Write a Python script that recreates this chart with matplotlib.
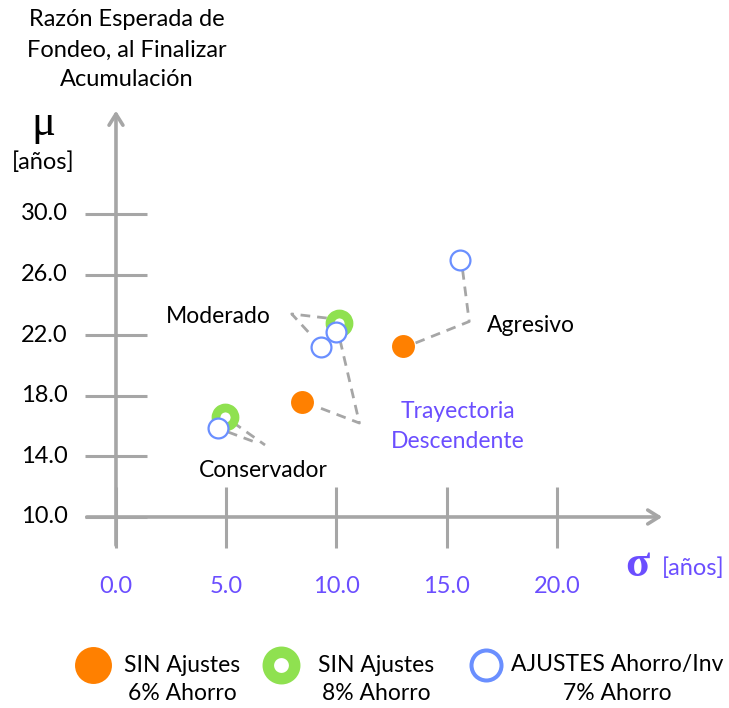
import matplotlib
matplotlib.use("Agg")
import matplotlib.pyplot as plt

plt.rcParams['font.family'] = ['Lato', 'DejaVu Sans']

# ---- data ----
orange_x = [8.42, 13.03]
orange_y = [17.6, 21.3]
green_x = [4.94, 10.11]
green_y = [16.62, 22.8]
blue_x = [4.64, 9.28, 9.98, 15.6]
blue_y = [15.9, 21.2, 22.23, 26.96]

x_ticks = [0.0, 5.0, 10.0, 15.0, 20.0]
y_ticks = [10.0, 14.0, 18.0, 22.0, 26.0, 30.0]

# callout connector paths (data coords)
conn_paths = [
    [(5.3, 16.25), (6.76, 14.75)],
    [(5.08, 15.61), (6.2, 15.0)],
    [(9.56, 23.13), (7.97, 23.4), (8.93, 21.88)],
    [(10.16, 21.68), (11.04, 16.2), (9.1, 17.28)],
    [(15.72, 26.3), (16.02, 22.9), (13.56, 21.47)],
]

labels_txt = ["Moderado", "Agresivo", "Conservador"]
labels_pos = [(4.66, 23.2), (18.8, 22.67), (6.67, 13.04)]

title_lines = ["Razón Esperada de", "Fondeo, al Finalizar", "Acumulación"]
legend_line1 = ["SIN Ajustes", "SIN Ajustes", "AJUSTES Ahorro/Inv"]
legend_line2 = ["6% Ahorro", "8% Ahorro", "7% Ahorro"]

ORANGE = "#FF8000"
GREEN = "#8FE150"
BLUE = "#6A8FFF"
GRAY = "#A6A6A6"
PURPLE = "#6B4EFF"

W, H = 729, 708
fig = plt.figure(figsize=(7.29, 7.08), dpi=100)

# overlay axes in pixel coordinates for free text / legend
pax = fig.add_axes([0, 0, 1, 1])
pax.set_xlim(0, W)
pax.set_ylim(H, 0)
pax.axis('off')

ax = fig.add_axes([0.0986, 0.2270, 0.7864, 0.5136])
ax.set_xlim(-2, 24)
ax.set_ylim(8, 32)
ax.axis('off')

# axes with arrows
ax.annotate('', xy=(24.9, 10), xytext=(-1.45, 10),
            arrowprops=dict(arrowstyle='->,head_length=0.8,head_width=0.5', color=GRAY, lw=2.6),
            annotation_clip=False)
ax.annotate('', xy=(0, 37.0), xytext=(0, 7.95),
            arrowprops=dict(arrowstyle='->,head_length=0.8,head_width=0.5', color=GRAY, lw=2.6),
            annotation_clip=False)

for yt in y_ticks:
    ax.plot([-1.42, 1.42], [yt, yt], color=GRAY, lw=2.2, clip_on=False, solid_capstyle='butt')
    ax.text(-2.2, yt, f"{yt:.1f}", ha='right', va='center', fontsize=17, color='black')
for xt in x_ticks:
    ax.plot([xt, xt], [7.95, 12.0], color=GRAY, lw=2.2, clip_on=False, solid_capstyle='butt')
    ax.text(xt, 5.4, f"{xt:.1f}", ha='center', va='center', fontsize=17, color=PURPLE)

# connectors
for path in conn_paths:
    xs, ys = zip(*path)
    ax.plot(xs, ys, color=GRAY, lw=2.0, ls=(0, (3.5, 2.5)), zorder=2, clip_on=False)

# points
ax.plot(green_x, green_y, 'o', ms=13.7, mfc='white', mec=GREEN, mew=6.3, ls='none', zorder=3)
ax.plot(orange_x, orange_y, 'o', ms=16.5, mfc=ORANGE, mec=ORANGE, mew=0, ls='none', zorder=3)
ax.plot(blue_x, blue_y, 'o', ms=14.3, mfc='white', mec=BLUE, mew=1.6, ls='none', zorder=4)

for t, (x, y) in zip(labels_txt, labels_pos):
    ax.text(x, y, t, ha='center', va='center', fontsize=16.5, color='black')
ax.text(15.5, 16.95, "Trayectoria", ha='center', va='center', fontsize=16.5, color=PURPLE)
ax.text(15.5, 15.0, "Descendente", ha='center', va='center', fontsize=16.5, color=PURPLE)

# titles
for line, yy in zip(title_lines, [19, 50, 80]):
    pax.text(127, yy, line, ha='center', va='center', fontsize=17)
pax.text(43, 124, "μ", ha='center', va='center', fontsize=32,
         family=['Liberation Serif', 'DejaVu Serif'])
pax.text(43, 162, "[años]", ha='center', va='center', fontsize=17)
pax.text(637, 565, "σ", ha='center', va='center', fontsize=32,
         family=['Liberation Serif', 'DejaVu Serif'], color=PURPLE, weight='bold')
pax.text(693, 568, "[años]", ha='center', va='center', fontsize=17, color=PURPLE)

# legend (manual)
pax.plot([93], [665], 'o', ms=26.6, mfc=ORANGE, mec=ORANGE, mew=0)
pax.plot([281], [665], 'o', ms=19.0, mfc='white', mec=GREEN, mew=8.3)
pax.plot([486], [665], 'o', ms=21.6, mfc='white', mec=BLUE, mew=2.9)
for cx, l1, l2 in zip([182, 376, 617], legend_line1, legend_line2):
    pax.text(cx, 665, l1, ha='center', va='center', fontsize=16.5)
    pax.text(cx, 693, l2, ha='center', va='center', fontsize=16.5)

fig.savefig("out.png", dpi=100)
